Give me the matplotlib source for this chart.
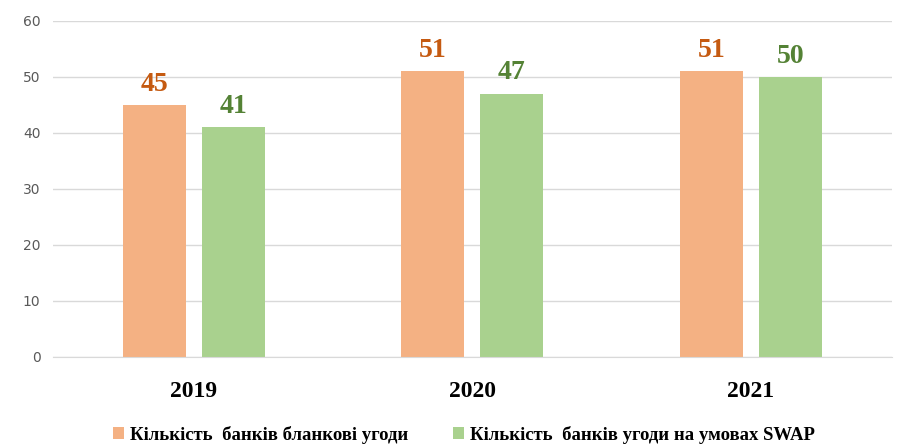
import matplotlib.pyplot as plt
import numpy as np

years = ["2019", "2020", "2021"]
blank_deals = [45, 51, 51]
swap_deals = [41, 47, 50]
y_ticks = [0, 10, 20, 30, 40, 50, 60]

label_blank = "Кількість  банків бланкові угоди"
label_swap = "Кількість  банків угоди на умовах SWAP"

orange = "#F4B183"
green = "#A9D18E"
orange_text = "#C55A11"
green_text = "#548235"

fig = plt.figure(figsize=(8.97, 4.45), dpi=100)
ax = fig.add_axes([0.059, 0.198, 0.935, 0.755])

x = np.arange(len(years))
width = 0.226
offset = 0.142

bars1 = ax.bar(x - offset, blank_deals, width, color=orange, label=label_blank, zorder=2)
bars2 = ax.bar(x + offset, swap_deals, width, color=green, label=label_swap, zorder=2)

# value labels above each bar
for rect, val in zip(bars1, blank_deals):
    ax.annotate(str(val), (rect.get_x() + rect.get_width() / 2, val),
                xytext=(0, 6), textcoords="offset points", ha="center", va="bottom",
                fontsize=20, fontweight="bold", family="Liberation Serif", color=orange_text)
for rect, val in zip(bars2, swap_deals):
    ax.annotate(str(val), (rect.get_x() + rect.get_width() / 2, val),
                xytext=(0, 6), textcoords="offset points", ha="center", va="bottom",
                fontsize=20, fontweight="bold", family="Liberation Serif", color=green_text)

ax.set_ylim(0, 60)
ax.set_xlim(-0.505, 2.505)
ax.set_yticks(y_ticks)
ax.set_xticks(x)
ax.set_xticklabels(years, fontsize=17, fontweight="bold", family="Liberation Serif")
ax.tick_params(axis="x", length=0, pad=17)
ax.tick_params(axis="y", length=0, pad=9, labelsize=10, labelcolor="#595959")

ax.grid(axis="y", color="#D9D9D9", linewidth=1, zorder=0)
for side in ["top", "right", "left"]:
    ax.spines[side].set_visible(False)
ax.spines["bottom"].set_color("#D9D9D9")

fig.legend(loc="lower center", bbox_to_anchor=(0.517, -0.035), ncol=2, frameon=False,
           prop={"family": "Liberation Serif", "weight": "bold", "size": 13.5},
           handlelength=0.6, handleheight=0.6, handletextpad=0.3, columnspacing=2.4)

fig.savefig("out.png", dpi=100)
